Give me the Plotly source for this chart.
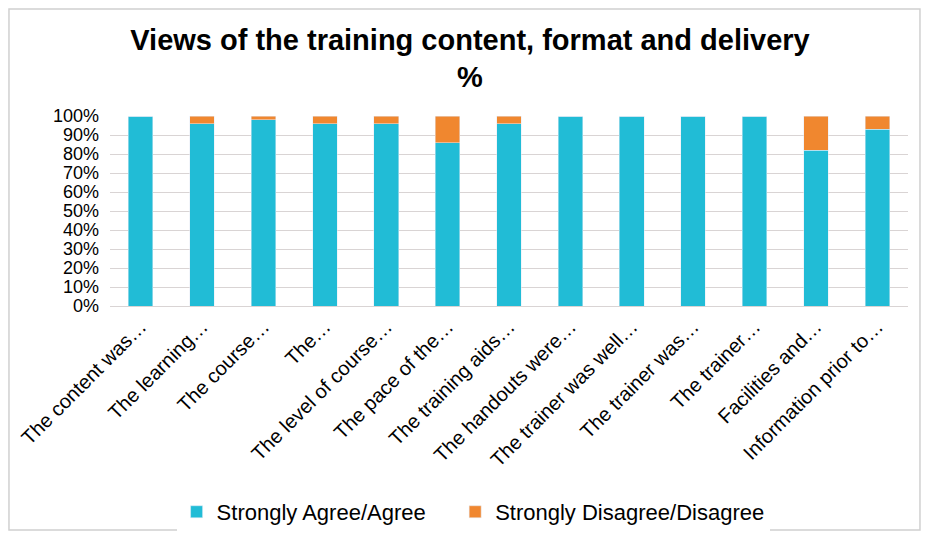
import plotly.graph_objects as go

statements = ['The content was…', 'The learning…', 'The course…', 'The…',
              'The level of course…', 'The pace of the…', 'The training aids…',
              'The handouts were…', 'The trainer was well…', 'The trainer was…',
              'The trainer…', 'Facilities and…', 'Information prior to…']
agree = [100, 96, 98, 96, 96, 86, 96, 100, 100, 100, 100, 82, 93]
disagree = [0, 4, 2, 4, 4, 14, 4, 0, 0, 0, 0, 18, 7]
y_ticks = [0, 10, 20, 30, 40, 50, 60, 70, 80, 90, 100]

fig = go.Figure()
# trailing nbsp's just widen the gap between the two legend entries
fig.add_trace(go.Bar(x=statements, y=agree, name='Strongly Agree/Agree' + '\u00a0' * 4,
                     marker_color='#21bcd6'))
fig.add_trace(go.Bar(x=statements, y=disagree, name='Strongly Disagree/Disagree',
                     marker_color='#f0872f'))

# the page has an 8px body margin, so everything is nudged up/left by 8px
fig.update_layout(
    barmode='stack',
    bargap=0.6,
    width=932, height=542,
    margin=dict(l=102, r=32, t=108, b=244, autoexpand=False),
    paper_bgcolor='white',
    plot_bgcolor='white',
    font=dict(family='Liberation Sans, Arial', size=18, color='black'),
    title=dict(text='<b>Views of the training content, format and delivery<br>%</b>',
               x=0.4957, xanchor='center', y=0.923, yanchor='top',
               font=dict(size=29, color='black')),
    legend=dict(orientation='h', x=0.455, xanchor='center', y=-1.084, yanchor='middle',
                font=dict(size=22), traceorder='normal'),
    showlegend=True,
)
fig.update_yaxes(range=[0, 100], tickvals=y_ticks,
                 ticktext=[f'{v}%' for v in y_ticks],
                 showgrid=True, gridcolor='#d9d4d4', gridwidth=1,
                 zeroline=False, showline=False, ticks='', ticklabelstandoff=10,
                 tickfont=dict(size=18))
fig.update_xaxes(tickangle=-45, showline=True, linecolor='#d9d4d4', ticks='',
                 tickfont=dict(size=20), automargin=False)

# outer frame of the chart
fig.add_shape(type='rect', xref='paper', yref='paper',
              x0=-0.1266, x1=1.015, y0=-1.179, y1=1.563,
              line=dict(color='#d0d0d0', width=1.5))

fig.write_html('out.html')
